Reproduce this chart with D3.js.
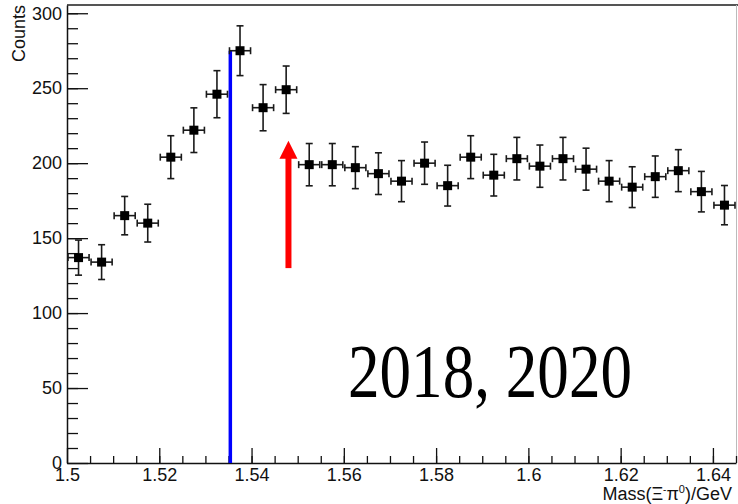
<!DOCTYPE html>
<html>
<head>
<meta charset="utf-8">
<script src="https://cdn.jsdelivr.net/npm/d3@7"></script>
<style>
  body { margin: 0; background: #fff; }
  svg { display: block; font-family: "Liberation Sans", Arial, sans-serif; }
</style>
</head>
<body>
<div id="chart"></div>
<script>
// bin centres (GeV) and counts
var massBins = [1.5025, 1.5075, 1.5125, 1.5175, 1.5225, 1.5275, 1.5325, 1.5375, 1.5425, 1.5475,
  1.5525, 1.5575, 1.5625, 1.5675, 1.5725, 1.5775, 1.5825, 1.5875, 1.5925, 1.5975,
  1.6025, 1.6075, 1.6125, 1.6175, 1.6225, 1.6275, 1.6325, 1.6375, 1.6425];
var counts = [137, 134, 165, 160, 204, 222, 246, 275, 237, 249,
  199, 199, 197, 193, 188, 200, 185, 204, 192, 203,
  198, 203, 196, 188, 184, 191, 195, 181, 172];
var countErrors = [11.7, 11.6, 12.8, 12.6, 14.3, 14.9, 15.7, 16.6, 15.4, 15.8,
  14.1, 14.1, 14.0, 13.9, 13.7, 14.1, 13.6, 14.3, 13.9, 14.2,
  14.1, 14.2, 14.0, 13.7, 13.6, 13.8, 14.0, 13.5, 13.1];
var halfBin = 0.0025;

var xTickValues = [1.5, 1.52, 1.54, 1.56, 1.58, 1.6, 1.62, 1.64];
var yTickValues = [0, 50, 100, 150, 200, 250, 300];

// blue line: [mass, top count]; red arrow: [mass, from count, to count]
var blueLine = [1.5354, 275];
var redArrow = [1.548, 130, 215];
var yearsLabel = "2018, 2020";

var width = 738, height = 504;
var padL = 67, padR = 736, padT = 5, padB = 463;

var svg = d3.select('#chart').append('svg')
  .attr('width', width)
  .attr('height', height);

var x = d3.scaleLinear().domain([1.5, 1.645]).range([padL, padR]);
var y = d3.scaleLinear().domain([0, 305.5]).range([padB, padT]);

// frame top / right
svg.append('line')
  .attr('x1', padL).attr('x2', width)
  .attr('y1', padT).attr('y2', padT)
  .attr('stroke', '#555').attr('stroke-width', 2);
svg.append('line')
  .attr('x1', padR + 0.5).attr('x2', padR + 0.5)
  .attr('y1', padT).attr('y2', padB)
  .attr('stroke', '#bbb').attr('stroke-width', 1);

// minor ticks
var xMinor = d3.range(1.505, 1.645, 0.005);
var yMinor = d3.range(10, 305, 10);
svg.append('g')
  .attr('transform', 'translate(0,' + padB + ')')
  .call(d3.axisBottom(x).tickValues(xMinor).tickSize(-7).tickSizeOuter(0).tickFormat(''))
  .call(function(g) { g.select('.domain').remove(); });
svg.append('g')
  .attr('transform', 'translate(' + padL + ',0)')
  .call(d3.axisLeft(y).tickValues(yMinor).tickSize(-11).tickSizeOuter(0).tickFormat(''))
  .call(function(g) { g.select('.domain').remove(); });

// major axes
svg.append('g')
  .attr('transform', 'translate(0,' + padB + ')')
  .call(d3.axisBottom(x).tickValues(xTickValues).tickSize(-15).tickSizeOuter(0)
    .tickPadding(5).tickFormat(d3.format('')));
svg.append('g')
  .attr('transform', 'translate(' + padL + ',0)')
  .call(d3.axisLeft(y).tickValues(yTickValues).tickSize(-21).tickSizeOuter(0)
    .tickPadding(5));

svg.selectAll('.tick line').attr('stroke', '#111').attr('stroke-width', 1.3);
svg.selectAll('.domain').attr('stroke', '#111').attr('stroke-width', 1.5);
svg.selectAll('.tick text').attr('font-size', 18).attr('fill', '#111')
  .attr('font-family', '"Liberation Sans", Arial, sans-serif');

// axis titles
svg.append('text')
  .attr('transform', 'translate(25,' + padT + ') rotate(-90)')
  .attr('text-anchor', 'end')
  .attr('font-size', 18)
  .attr('fill', '#111')
  .text('Counts');

var xTitle = svg.append('text')
  .attr('x', 732)
  .attr('y', 500)
  .attr('text-anchor', 'end')
  .attr('font-size', 18)
  .attr('fill', '#111');
xTitle.append('tspan').text('Mass(\u039E');
xTitle.append('tspan').attr('dy', -7).attr('font-size', 10).text('-');
xTitle.append('tspan').attr('dy', 7).text('\u03C0');
xTitle.append('tspan').attr('dy', -7).attr('font-size', 11).text('0');
xTitle.append('tspan').attr('dy', 7).text(')/GeV');

// blue vertical line
svg.append('line')
  .attr('x1', x(blueLine[0])).attr('x2', x(blueLine[0]))
  .attr('y1', y(0)).attr('y2', y(blueLine[1]))
  .attr('stroke', '#0000ff').attr('stroke-width', 3.5);

// red arrow
var ax = x(redArrow[0]);
var headLen = 18, headHalf = 9;
svg.append('line')
  .attr('x1', ax).attr('x2', ax)
  .attr('y1', y(redArrow[1])).attr('y2', y(redArrow[2]) + headLen - 1)
  .attr('stroke', '#ff0000').attr('stroke-width', 6);
svg.append('path')
  .attr('d', 'M' + ax + ',' + y(redArrow[2]) +
    ' L' + (ax + headHalf) + ',' + (y(redArrow[2]) + headLen) +
    ' L' + (ax - headHalf) + ',' + (y(redArrow[2]) + headLen) + ' Z')
  .attr('fill', '#ff0000');

// data points with error bars
var pts = massBins.map(function(m, i) {
  return { m: m, c: counts[i], e: countErrors[i] };
});
var cap = 3.5;
var pg = svg.append('g').attr('stroke', '#1a1a1a').attr('stroke-width', 1.6);
pts.forEach(function(p) {
  var cx = x(p.m), cy = y(p.c);
  var y0 = y(p.c - p.e), y1 = y(p.c + p.e);
  var x0 = x(p.m - halfBin) + 1, x1 = x(p.m + halfBin) - 1;
  pg.append('line').attr('x1', cx).attr('x2', cx).attr('y1', y0).attr('y2', y1);
  pg.append('line').attr('x1', cx - cap).attr('x2', cx + cap).attr('y1', y0).attr('y2', y0);
  pg.append('line').attr('x1', cx - cap).attr('x2', cx + cap).attr('y1', y1).attr('y2', y1);
  pg.append('line').attr('x1', x0).attr('x2', x1).attr('y1', cy).attr('y2', cy);
  pg.append('line').attr('x1', x0).attr('x2', x0).attr('y1', cy - cap).attr('y2', cy + cap);
  pg.append('line').attr('x1', x1).attr('x2', x1).attr('y1', cy - cap).attr('y2', cy + cap);
});
svg.append('g').selectAll('rect')
  .data(pts)
  .join('rect')
  .attr('x', function(d) { return x(d.m) - 4.5; })
  .attr('y', function(d) { return y(d.c) - 4.5; })
  .attr('width', 9)
  .attr('height', 9)
  .attr('fill', '#000');

// years label
svg.append('text')
  .attr('x', 348)
  .attr('y', 397)
  .attr('font-family', '"Liberation Serif", "Times New Roman", serif')
  .attr('font-size', 76)
  .attr('textLength', 284)
  .attr('lengthAdjust', 'spacingAndGlyphs')
  .attr('fill', '#000')
  .text(yearsLabel);
</script>
</body>
</html>
